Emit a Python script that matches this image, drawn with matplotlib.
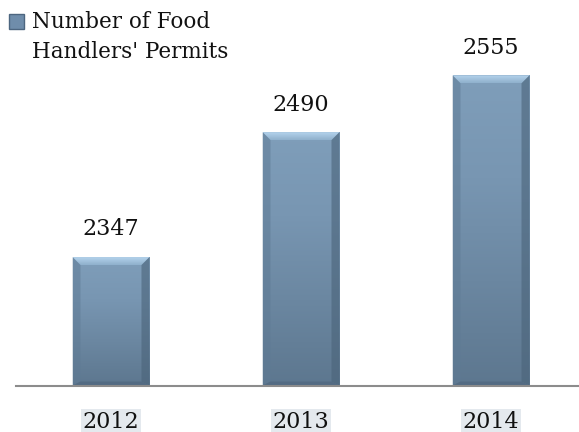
import numpy as np
import matplotlib
matplotlib.use("Agg")
import matplotlib.pyplot as plt
from matplotlib.patches import Polygon, Patch
from matplotlib.colors import LinearSegmentedColormap

years = ["2012", "2013", "2014"]
permits = [2347, 2490, 2555]
series_name = "Number of Food\nHandlers' Permits"

FONT = "DejaVu Serif"
plt.rcParams["font.family"] = FONT

W, H, DPI = 5.79, 4.32, 100
fig = plt.figure(figsize=(W, H), dpi=DPI, facecolor="white")
ax = fig.add_axes([16 / 579, 46.5 / 432, 1 - 16 / 579, (385.5 - 36) / 432])

x = np.arange(len(years))
bars = ax.bar(x, permits, width=0.405, bottom=0, color="#7694b0", zorder=2)
ax.set_xlim(-0.5, 2.463)
ax.set_ylim(2200, 2600)

# pixel -> data scale for bevel
ax_w = fig.get_figwidth() * DPI * ax.get_position().width
ax_h = fig.get_figheight() * DPI * ax.get_position().height
px_x = (ax.get_xlim()[1] - ax.get_xlim()[0]) / ax_w
px_y = (ax.get_ylim()[1] - ax.get_ylim()[0]) / ax_h

cmap = LinearSegmentedColormap.from_list(
    "bar", ["#5d778f", "#6b87a1", "#7896b2", "#7f9eba"])
grad = np.linspace(0, 1, 256).reshape(-1, 1)
top_cmap = LinearSegmentedColormap.from_list("top", ["#8fb0cc", "#b4d3ec"])

for b, v in zip(bars, permits):
    x0, x1 = b.get_x(), b.get_x() + b.get_width()
    y0, y1 = ax.get_ylim()[0], v
    im = ax.imshow(grad, extent=[x0, x1, y0, y1], origin="lower",
                   cmap=cmap, aspect="auto", zorder=3)
    im.set_clip_path(b)
    bx, by = 8 * px_x, 8 * px_y
    top = Polygon([(x0, y1), (x1, y1), (x1 - bx, y1 - by), (x0 + bx, y1 - by)],
                  closed=True, facecolor="none", edgecolor="none", zorder=4)
    ax.add_patch(top)
    tim = ax.imshow(grad, extent=[x0, x1, y1 - by, y1], origin="lower",
                    cmap=top_cmap, aspect="auto", zorder=4)
    tim.set_clip_path(top)
    left = Polygon([(x0, y1), (x0 + bx, y1 - by), (x0 + bx, y0 + by / 2),
                    (x0, y0)],
                   closed=True, facecolor="#5e7a94", edgecolor="none",
                   alpha=0.5, zorder=4)
    right = Polygon([(x1, y1), (x1 - bx, y1 - by), (x1 - bx, y0 + by / 2),
                     (x1, y0)],
                    closed=True, facecolor="#4a6379", edgecolor="none",
                    alpha=0.6, zorder=4)
    bottom = Polygon([(x0, y0), (x1, y0), (x1 - bx, y0 + by / 2),
                      (x0 + bx, y0 + by / 2)],
                     closed=True, facecolor="#4f677e", edgecolor="none",
                     alpha=0.7, zorder=4)
    for p in (left, right, bottom):
        ax.add_patch(p)
    ax.text(b.get_x() + b.get_width() / 2, v + 19, f"{v}", ha="center",
            va="bottom", fontsize=16, color="#111111", zorder=5)

for s in ["top", "right", "left"]:
    ax.spines[s].set_visible(False)
ax.spines["bottom"].set_color("#8c8c8c")
ax.spines["bottom"].set_linewidth(1.5)
ax.spines["bottom"].set_zorder(6)
ax.set_yticks([])
ax.set_xticks(x)
ax.set_xticklabels(years, fontsize=16, color="#111111")
ax.tick_params(axis="x", length=0, pad=18)
for t in ax.get_xticklabels():
    t.set_bbox(dict(facecolor="#e4e9ee", edgecolor="none", pad=1.5))

leg = fig.legend(handles=[Patch(facecolor="#6f8dab", edgecolor="#4d6680",
                                label=series_name)],
                 loc="upper left", bbox_to_anchor=(0.0, 0.995), frameon=False,
                 fontsize=15.5, handlelength=0.7, handleheight=0.7,
                 handletextpad=0.4, borderaxespad=0)
for t in leg.get_texts():
    t.set_linespacing(1.5)
    t.set_color("#111111")
h = leg.legend_handles[0]
h.set_y(h.get_y() + 12)

fig.savefig("out.png", dpi=DPI, facecolor="white")
